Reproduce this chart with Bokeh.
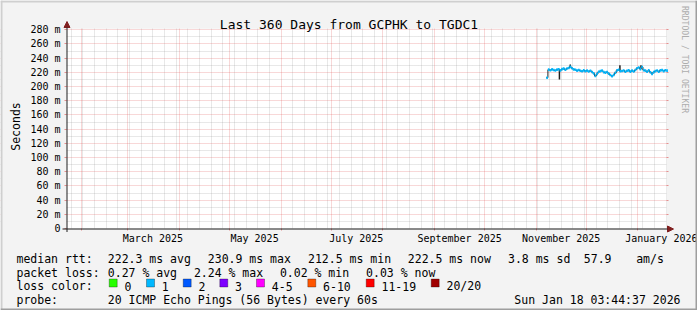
import math
import pandas as pd
from bokeh.plotting import figure
from bokeh.models import (Range1d, LinearAxis, FixedTicker, Grid, Label, Arrow,
                          NormalHead, BoxAnnotation, ColumnDataSource)
from bokeh.embed import file_html
from bokeh.resources import INLINE

# ---------------- data ----------------
title_text = "Last 360 Days from GCPHK to TGDC1"
end_time = pd.Timestamp("2026-01-18 03:44:37")
start_time = end_time - pd.Timedelta(days=360)
y_max = 281.8

first_sample = "2025-11-07"
median_ms = [
    212.5, 223.8, 223.0, 224.2, 223.3, 222.6, 223.9, 224.4, 222.8, 224.6,
    225.2, 223.6, 225.4, 226.2, 227.8, 225.8, 224.2, 223.6, 222.4, 223.4,
    222.2, 221.6, 222.8, 221.6,
    222.5, 221.2, 222.3, 220.6, 218.6, 214.8, 217.8, 220.8, 221.8, 222.4,
    220.4, 219.6, 220.6, 218.2, 216.2, 214.6, 216.4, 219.4, 222.8, 223.6,
    221.6, 222.0, 222.6, 220.8, 222.2, 222.8, 221.0, 222.4, 221.2, 223.4,
    225.8,
    226.8, 224.6, 227.6, 223.2, 222.4, 220.8, 222.8, 220.2, 217.8, 220.4,
    221.8, 222.6, 220.8, 222.8, 223.2, 221.8, 223.0, 222.5,
]
spike_dates = ["2025-11-14 22:00", "2025-11-21 10:00", "2025-12-21 05:00", "2026-01-02 20:00"]
spike_from = [223.5, 227.0, 222.0, 226.5]
spike_to = [210.0, 230.9, 230.0, 230.0]

y_ticks = [0, 20, 40, 60, 80, 100, 120, 140, 160, 180, 200, 220, 240, 260, 280]
y_tick_labels = ["0"] + [f"{v} m" for v in y_ticks[1:]]
month_labels = ["March 2025", "May 2025", "July 2025", "September 2025",
                "November 2025", "January 2026"]
month_label_dates = ["2025-03-16", "2025-05-16", "2025-07-16", "2025-09-16",
                     "2025-11-16", "2026-01-16"]

stats_rtt = ["median rtt:", "222.3 ms avg", "230.9 ms max", "212.5 ms min",
             "222.5 ms now", "3.8 ms sd", "57.9", "am/s"]
stats_loss = ["packet loss:", "0.27 % avg", "2.24 % max", "0.02 % min", "0.03 % now"]
loss_names = ["0", "1", "2", "3", "4-5", "6-10", "11-19", "20/20"]
loss_colors = ["#26ff00", "#00b8ff", "#0059ff", "#7e00ff", "#ff00ff", "#ff5500",
               "#ff0000", "#a00000"]
probe_text = ["probe:", "20 ICMP Echo Pings (56 Bytes) every 60s"]
stamp_text = "Sun Jan 18 03:44:37 2026"
watermark = "RRDTOOL / TOBI OETIKER"


def ms(t):
    return pd.Timestamp(t).value / 1e6


# ---------------- layout (pixels) ----------------
W, H = 697, 310
L, R, T, B = 66, 31, 28, 82
FW, FH = W - L - R, H - T - B
FONT = "DejaVu Sans Mono"
MGRID = "#de4f4f"
GRID = "#8f8f8f"
BACK = "#f3f3f3"

t0, t1 = ms(start_time), ms(end_time)
mpp = (t1 - t0) / FW          # ms per pixel
upp = y_max / FH              # value units per pixel

p = figure(width=W, height=H, output_backend="svg", toolbar_location=None,
           x_range=Range1d(t0 - L * mpp, t1 + R * mpp),
           y_range=Range1d(-B * upp, y_max + T * upp),
           x_axis_type=None, y_axis_type=None, title=None, min_border=0,
           background_fill_color=BACK, border_fill_color=BACK,
           outline_line_color=None)
p.xgrid.visible = False
p.ygrid.visible = False

# white canvas of the graph
p.add_layout(BoxAnnotation(left=t0, right=t1, bottom=0, top=y_max, level="underlay",
                           fill_color="white", fill_alpha=1, line_color=None))

# grids
month_starts = pd.date_range("2025-02-01", "2026-01-01", freq="MS")
sundays = [d for d in pd.date_range("2025-01-26", end_time, freq="7D") if d.day != 1]
p.add_layout(Grid(dimension=0, ticker=FixedTicker(ticks=[ms(d) for d in sundays]),
                  grid_line_color=GRID, grid_line_alpha=0.42, grid_line_dash="1 1"))
p.add_layout(Grid(dimension=1, ticker=FixedTicker(ticks=[v + 10 for v in y_ticks[:-1]]),
                  grid_line_color=GRID, grid_line_alpha=0.42, grid_line_dash="1 1"))
p.add_layout(Grid(dimension=0, ticker=FixedTicker(ticks=[ms(d) for d in month_starts]),
                  grid_line_color=MGRID, grid_line_alpha=0.45, grid_line_dash="1 1"))
p.add_layout(Grid(dimension=1, ticker=FixedTicker(ticks=y_ticks[1:]),
                  grid_line_color=MGRID, grid_line_alpha=0.45, grid_line_dash="1 1"))

# hide grid lines outside the graph canvas
for kw in (dict(right=t0), dict(left=t1), dict(top=0), dict(bottom=y_max)):
    p.add_layout(BoxAnnotation(level="underlay", fill_color=BACK, fill_alpha=1,
                               line_color=None, **kw))

# axes
yax = LinearAxis(fixed_location=t0, ticker=FixedTicker(ticks=y_ticks),
                 major_label_overrides={v: s for v, s in zip(y_ticks, y_tick_labels)},
                 axis_line_color=None, major_tick_out=2, major_tick_in=0,
                 major_tick_line_color=MGRID, major_tick_line_alpha=0.6,
                 minor_tick_line_color=None, major_label_standoff=4,
                 major_label_text_font=FONT, major_label_text_font_size="10px",
                 major_label_text_color="black")
p.add_layout(yax, "left")
yax_r = LinearAxis(fixed_location=t1, ticker=FixedTicker(ticks=y_ticks[1:]),
                   axis_line_color=None, major_tick_out=2, major_tick_in=0,
                   major_tick_line_color=MGRID, major_tick_line_alpha=0.6,
                   minor_tick_line_color=None, major_label_text_color=None)
p.add_layout(yax_r, "right")
lab_ms = [ms(d) for d in month_label_dates]
xax = LinearAxis(fixed_location=0, ticker=FixedTicker(ticks=lab_ms),
                 major_label_overrides={v: s for v, s in zip(lab_ms, month_labels)},
                 axis_line_color=None, major_tick_line_color=None, major_tick_out=0,
                 major_tick_in=0, minor_tick_line_color=None, major_label_standoff=4,
                 major_label_text_font=FONT, major_label_text_font_size="10px",
                 major_label_text_color="black")
p.add_layout(xax, "below")
xax_t = LinearAxis(fixed_location=0, ticker=FixedTicker(ticks=[ms(d) for d in month_starts]),
                   axis_line_color=None, major_tick_out=2, major_tick_in=0,
                   major_tick_line_color=MGRID, major_tick_line_alpha=0.6,
                   minor_tick_line_color=None, major_label_text_color=None)
p.add_layout(xax_t, "below")

# data
dates = pd.date_range(first_sample, periods=len(median_ms), freq="D")
xs = [ms(d) for d in dates]
x_next = [ms(d + pd.Timedelta(days=1)) for d in dates]
src = ColumnDataSource(dict(x=xs, x1=x_next, y=median_ms))
p.segment(x0=[ms(d) for d in spike_dates], y0=spike_from,
          x1=[ms(d) for d in spike_dates], y1=spike_to, line_color="#202020", line_width=1.5)
p.step(x="x", y="y", source=src, mode="after", line_color="#202020", line_width=1)
p.segment(x0="x", y0="y", x1="x1", y1="y", source=src, line_color="#00b8ff",
          line_width=2.6, line_cap="butt")

# axis lines with arrows (screen units: origin bottom-left of canvas)
ARROW = "#801f1f"
AXIS = "#1f1f1f"
base = H - (T + FH) - 0.5          # x axis row
p.add_layout(Arrow(x_start=L - 4, y_start=base, x_end=W - R + 7, y_end=base,
                   start_units="screen", end_units="screen", line_color=AXIS, line_width=1,
                   end=NormalHead(size=6, fill_color=ARROW, line_color=ARROW)))
p.add_layout(Arrow(x_start=L + 0.5, y_start=base - 3, x_end=L + 0.5, y_end=H - 21,
                   start_units="screen", end_units="screen", line_color=AXIS, line_width=1,
                   end=NormalHead(size=6, fill_color=ARROW, line_color=ARROW)))


def txt(s, cx, cy, size="11.5px", align="left", color="black", angle=0.0):
    p.add_layout(Label(x=cx, y=H - cy, x_units="screen", y_units="screen", text=s,
                       text_font=FONT, text_font_size=size, text_align=align,
                       text_baseline="alphabetic", text_color=color, angle=angle))


txt(title_text, 348.5, 24, size="13px", align="center")
txt("Seconds", 15.5, 126, align="center", angle=math.pi / 2)
txt(watermark, 684.5, 59, size="8.1px", align="center", color="#adadad", angle=-math.pi / 2)

rtt_x = [16, 107.3, 207.3, 307.5, 407.3, 507.5, 583.3, 635.7]
for s, x in zip(stats_rtt, rtt_x):
    txt(s, x, 258.3)
loss_x = [16, 107.3, 193.4, 279.4, 365.6]
for s, x in zip(stats_loss, loss_x):
    txt(s, x, 272)
txt("loss color:", 16, 285.7)
box_x = [108.7, 146, 182.7, 219.3, 256, 307.3, 365.7, 430.7]
for name, col, bx in zip(loss_names, loss_colors, box_x):
    p.add_layout(BoxAnnotation(left=bx, right=bx + 8, bottom=H - 286.5, top=H - 278.5,
                               left_units="screen", right_units="screen",
                               top_units="screen", bottom_units="screen",
                               fill_color=col, fill_alpha=1, line_color="black", line_width=1))
    txt(name, bx + 15.3, 285.7)
txt(probe_text[0], 16, 299.3)
txt(probe_text[1], 107.3, 299.3)
txt(stamp_text, 680, 299.3, align="right")


# canvas shading frame
def shade(x0, x1, y0, y1, col):
    p.add_layout(BoxAnnotation(left=x0, right=x1, bottom=H - y1, top=H - y0,
                               left_units="screen", right_units="screen",
                               top_units="screen", bottom_units="screen",
                               fill_color=col, fill_alpha=1, line_color=None))


shade(0, W, 0, 2, "#cfcfcf")
shade(0, 2, 0, H, "#cfcfcf")
shade(W - 2, W, 0, H, "#9e9e9e")
shade(0, W, H - 2, H, "#9e9e9e")

open("out.html", "w").write(file_html(p, INLINE))
